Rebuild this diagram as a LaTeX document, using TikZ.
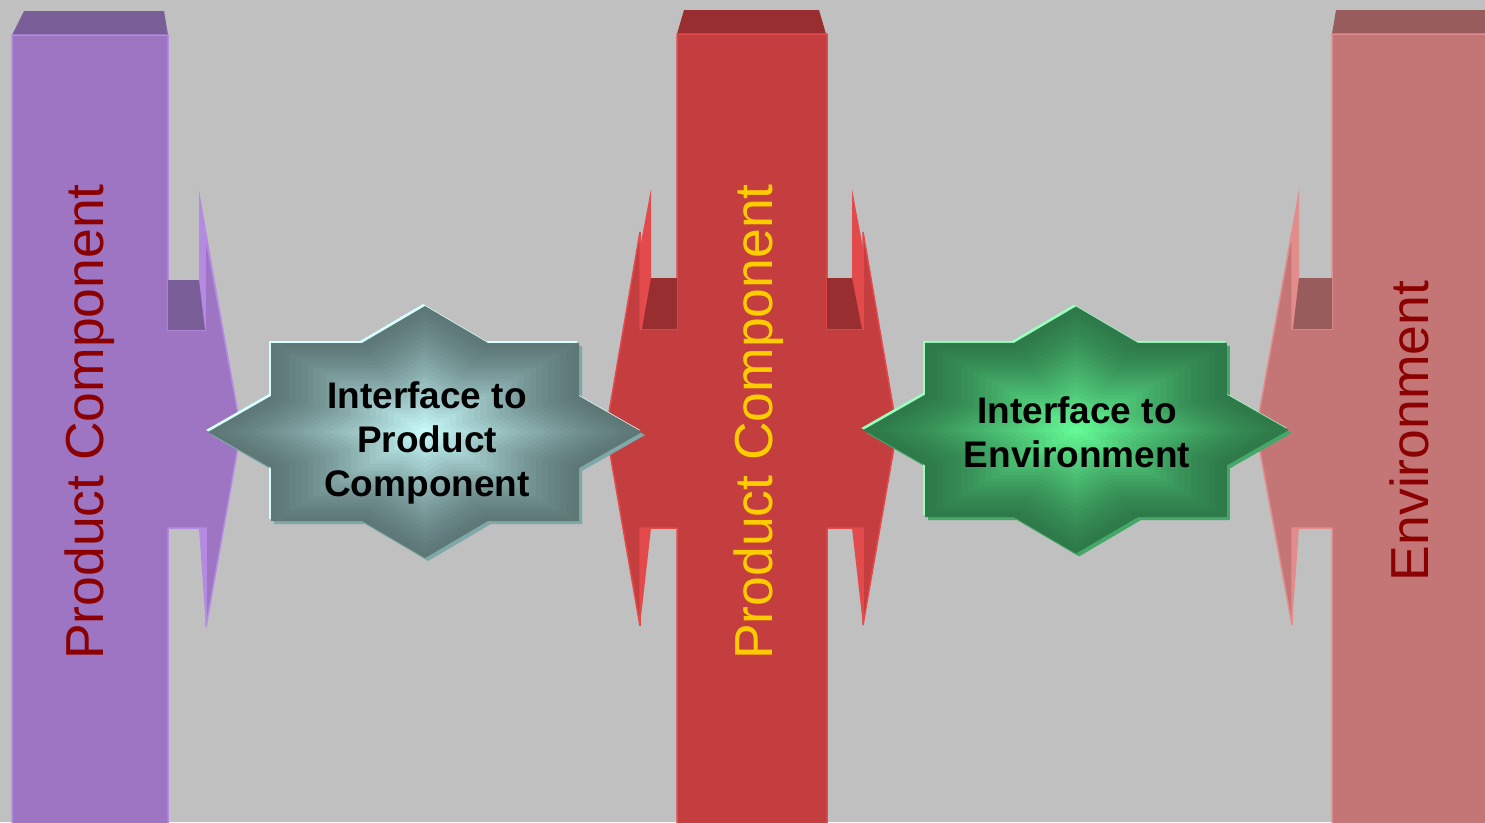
\documentclass[tikz,border=0pt]{standalone}
\usepackage{fontspec}
\setmainfont{Liberation Sans}
\usetikzlibrary{positioning}

\definecolor{bggray}{HTML}{C0C0C0}
\definecolor{violetfront}{HTML}{9D75C3}
\definecolor{violettop}{HTML}{7A5E98}
\definecolor{violetedge}{HTML}{B48AE2}
\definecolor{redfront}{HTML}{C43E3F}
\definecolor{redtop}{HTML}{982E2F}
\definecolor{rededge}{HTML}{E24A4B}
\definecolor{rosefront}{HTML}{C47676}
\definecolor{rosetop}{HTML}{985C5C}
\definecolor{roseedge}{HTML}{E28C8C}
\definecolor{labelred}{HTML}{8B0000}
\definecolor{labelgold}{HTML}{FFCC00}
\definecolor{tealin}{HTML}{CCFFFF}
\definecolor{tealout}{HTML}{5E7878}
\definecolor{teallight}{HTML}{D8FFFF}
\definecolor{tealshadow}{HTML}{80A8A8}
\definecolor{greenin}{HTML}{66FF99}
\definecolor{greenout}{HTML}{2E7A4A}
\definecolor{greenlight}{HTML}{99FFBB}
\definecolor{greenshadow}{HTML}{46A868}

\tikzstyle{frontface} = [line width=1.5pt, line join=miter]
\tikzstyle{bartext} = [rotate=90, anchor=base, inner sep=0pt, font=\fontsize{53.5}{60}\selectfont]
\tikzstyle{startext} = [align=center, inner sep=0pt, text=black, font=\fontsize{37}{44}\selectfont\bfseries]

% eight pointed star around the origin
\newcommand{\starshape}{(-154,-89) -- (-63,-89) -- (0,-126) -- (63,-89) -- (154,-89) -- (154,-36) -- (217,0) -- (154,36) -- (154,89) -- (63,89) -- (0,126) -- (-63,89) -- (-154,89) -- (-154,36) -- (-217,0) -- (-154,-36) -- cycle}

\begin{document}
\begin{tikzpicture}[x=1pt, y=-1pt]

  \useasboundingbox (0,0) rectangle (1485,822);
  \fill[bggray] (0,0) rectangle (1485,822);

  % left product component
  \fill[violettop] (12,35) -- (24,11) -- (164,11) -- (168,35) -- cycle;
  \fill[violetedge] (199,190) -- (241,430) -- (205,330) -- (199,330) -- cycle;
  \fill[violetedge] (199,528) -- (206,528) -- (206,627) -- cycle;
  \filldraw[frontface, fill=violetfront, draw=violetedge] (12,35) -- (168,35) -- (168,330) -- (205,330) -- (205,233) -- (241,430) -- (206,627) -- (206,528) -- (168,528) -- (168,830) -- (12,830) -- cycle;
  \fill[violettop] (168,280) -- (199,280) -- (205,330) -- (168,330) -- cycle;

  % middle product component
  \fill[redtop] (677,34) -- (684,10) -- (819,10) -- (826,34) -- cycle;
  \fill[rededge] (852,189) -- (897,430) -- (863,330) -- (852,330) -- cycle;
  \fill[rededge] (852,528) -- (863,528) -- (863,625) -- cycle;
  \fill[rededge] (651,189) -- (606,430) -- (640,330) -- (651,330) -- cycle;
  \fill[rededge] (640,528) -- (651,528) -- (640,626) -- cycle;
  \filldraw[frontface, fill=redfront, draw=rededge] (677,34) -- (827,34) -- (827,329) -- (863,329) -- (863,232) -- (897,430) -- (863,625) -- (863,528) -- (827,528) -- (827,830) -- (677,830) -- (677,528) -- (640,528) -- (640,626) -- (606,430) -- (640,232) -- (640,329) -- (677,329) -- cycle;
  \fill[redtop] (827,278) -- (852,278) -- (862,329) -- (827,329) -- cycle;
  \fill[redtop] (677,278) -- (651,278) -- (642,329) -- (677,329) -- cycle;

  % environment
  \fill[rosetop] (1332,34) -- (1336,10) -- (1490,10) -- (1490,34) -- cycle;
  \fill[roseedge] (1299,189) -- (1256,430) -- (1292,330) -- (1299,330) -- cycle;
  \fill[roseedge] (1292,528) -- (1299,528) -- (1292,625) -- cycle;
  \filldraw[frontface, fill=rosefront, draw=roseedge] (1332,34) -- (1490,34) -- (1490,830) -- (1332,830) -- (1332,528) -- (1292,528) -- (1292,625) -- (1256,430) -- (1292,232) -- (1292,329) -- (1332,329) -- cycle;
  \fill[rosetop] (1332,278) -- (1299,278) -- (1293,329) -- (1332,329) -- cycle;

  \node[bartext, text=labelred] (pcleft) at (103,422) {Product Component};
  \node[bartext, text=labelgold] (pcmid) at (772,422) {Product Component};
  \node[bartext, text=labelred] (env) at (1428,431) {Environment};

  % interface stars
  \fill[tealshadow, shift={(428,435)}] \starshape;
  \fill[teallight, shift={(423,430)}] \starshape;
  \foreach \sz in {1,0.96,...,0.02} {
    \pgfmathsetmacro\pct{100*(1-\sz)^1.3}
    \fill[tealin!\pct!tealout, shift={(425,432)}, scale=\sz] \starshape;
  }

  \fill[greenshadow, shift={(1079,433)}, scale=0.98] \starshape;
  \fill[greenlight, shift={(1074,428)}, scale=0.98] \starshape;
  \foreach \sz in {1,0.96,...,0.02} {
    \pgfmathsetmacro\pct{100*(1-\sz)^1.3}
    \fill[greenin!\pct!greenout, shift={(1076,430)}, scale=0.98*\sz] \starshape;
  }

  \node[startext] (ifpc) at (427,443) {Interface to\\Product\\Component};
  \node[startext] (ifenv) at (1077,432) {Interface to\\Environment};

\end{tikzpicture}
\end{document}
